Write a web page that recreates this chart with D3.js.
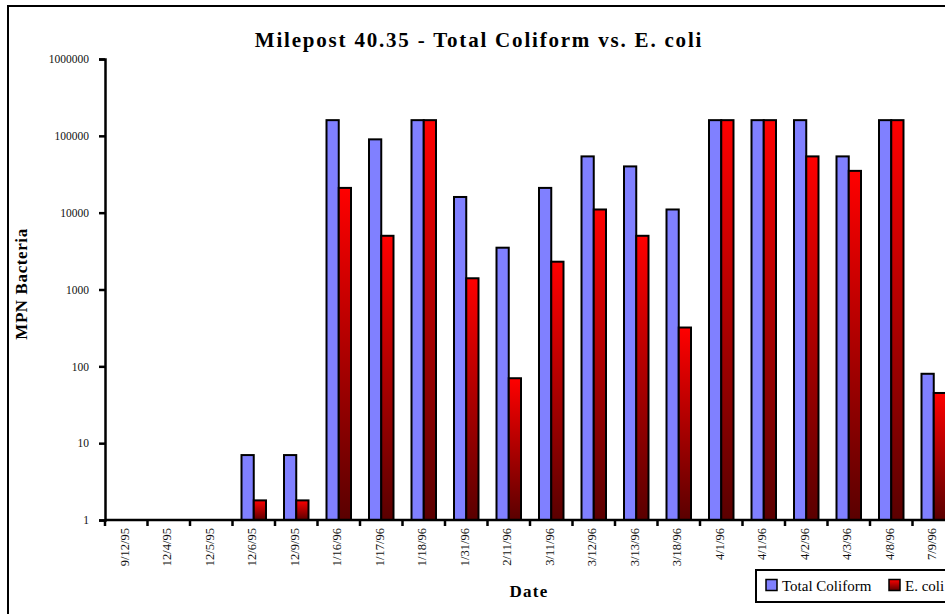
<!DOCTYPE html>
<html>
<head>
<meta charset="utf-8">
<script src="https://cdn.jsdelivr.net/npm/d3@7"></script>
<style>
  html, body { margin: 0; padding: 0; background: #fff; }
  svg { display: block; font-family: "Liberation Serif", "Times New Roman", serif; }
</style>
</head>
<body>
<svg id="chart" width="945" height="614"></svg>
<script>
// Sampling dates (Milepost 40.35)
const dates = ["9/12/95", "12/4/95", "12/5/95", "12/6/95", "12/9/95", "1/16/96", "1/17/96",
  "1/18/96", "1/31/96", "2/11/96", "3/11/96", "3/12/96", "3/13/96", "3/18/96", "4/1/96",
  "4/1/96", "4/2/96", "4/3/96", "4/8/96", "7/9/96"];

// MPN counts; null = no bar drawn
const totalColiform = [null, null, null, 7, 7, 160000, 90000, 160000, 16000, 3500, 21000,
  54000, 40000, 11000, 160000, 160000, 160000, 54000, 160000, 80];
const eColi = [null, null, null, 1.8, 1.8, 21000, 5000, 160000, 1400, 70, 2300,
  11000, 5000, 320, 160000, 160000, 54000, 35000, 160000, 45];

const yTicks = [1, 10, 100, 1000, 10000, 100000, 1000000];
const seriesNames = ["Total Coliform", "E. coli"];

const svg = d3.select("#chart");

const defs = svg.append("defs");
["ecoliFill", "ecoliSwatch"].forEach(id => {
  const grad = defs.append("linearGradient")
    .attr("id", id)
    .attr("x1", 0).attr("y1", 0).attr("x2", 0).attr("y2", 1);
  grad.append("stop").attr("offset", "0%").attr("stop-color", "#ff0000");
  grad.append("stop").attr("offset", "100%").attr("stop-color", "#5a0000");
});

// outer frame
svg.append("rect")
  .attr("x", 8).attr("y", 6).attr("width", 960).attr("height", 640)
  .attr("fill", "none").attr("stroke", "#000").attr("stroke-width", 2);

const plotLeft = 105, plotTop = 59, plotBottom = 520, step = 42.5;

const x = d3.scaleBand()
  .domain(d3.range(dates.length))
  .range([plotLeft, plotLeft + step * dates.length])
  .paddingInner(0).paddingOuter(0);

const xs = d3.scaleBand()
  .domain([0, 1])
  .range([0, x.bandwidth()])
  .paddingInner(0)
  .paddingOuter(0.735);

const y = d3.scaleLog()
  .domain([1, 1000000])
  .range([plotBottom, plotTop]);

// title
svg.append("text")
  .attr("x", 479).attr("y", 47)
  .attr("text-anchor", "middle")
  .attr("font-size", 21).attr("font-weight", "bold")
  .attr("letter-spacing", 1.8)
  .text("Milepost 40.35 - Total Coliform vs. E. coli");

// bars
const rows = dates.map((d, i) => ({ i, tc: totalColiform[i], ec: eColi[i] }));
const groups = svg.append("g").selectAll("g")
  .data(rows).join("g")
  .attr("transform", d => `translate(${x(d.i)},0)`);

groups.each(function (d) {
  const g = d3.select(this);
  [[0, d.tc, "#8080ff"], [1, d.ec, "url(#ecoliFill)"]].forEach(([k, v, fill]) => {
    if (v == null) return;
    g.append("rect")
      .attr("x", xs(k))
      .attr("y", y(v))
      .attr("width", xs.bandwidth())
      .attr("height", y(1) - y(v))
      .attr("fill", fill)
      .attr("stroke", "#000")
      .attr("stroke-width", 2);
  });
});

// y axis
const yAxis = d3.axisLeft(y)
  .tickValues(yTicks)
  .tickFormat(d3.format("d"))
  .tickSize(6)
  .tickPadding(10);
const yg = svg.append("g")
  .attr("transform", `translate(${plotLeft},0)`)
  .call(yAxis);
yg.select(".domain").attr("stroke-width", 2.5);
yg.selectAll(".tick line").attr("stroke-width", 2.5);
yg.selectAll(".tick text")
  .attr("font-size", 11.5)
  .attr("font-family", "Liberation Serif, serif")
  .attr("fill", "#111");

// x axis: labels centred on categories, ticks on category boundaries
const xAxis = d3.axisBottom(x).tickSize(0).tickFormat(i => dates[i]);
const xg = svg.append("g")
  .attr("transform", `translate(0,${plotBottom})`)
  .call(xAxis);
xg.select(".domain").remove();
xg.selectAll(".tick text")
  .attr("font-size", 12.5)
  .attr("font-family", "Liberation Serif, serif")
  .attr("fill", "#111")
  .attr("text-anchor", "end")
  .attr("transform", "rotate(-90)")
  .attr("x", -8)
  .attr("y", -2)
  .attr("dy", "0.35em");

svg.append("line")
  .attr("x1", plotLeft).attr("x2", x.range()[1])
  .attr("y1", plotBottom).attr("y2", plotBottom)
  .attr("stroke", "#000").attr("stroke-width", 2.5);

svg.append("g").selectAll("line")
  .data(d3.range(dates.length + 1))
  .join("line")
  .attr("x1", i => plotLeft + i * x.step())
  .attr("x2", i => plotLeft + i * x.step())
  .attr("y1", plotBottom).attr("y2", plotBottom + 6)
  .attr("stroke", "#000").attr("stroke-width", 2.5);

// axis titles
svg.append("text")
  .attr("transform", "translate(27,284) rotate(-90)")
  .attr("text-anchor", "middle")
  .attr("font-size", 17).attr("font-weight", "bold")
  .attr("letter-spacing", 0.6)
  .text("MPN Bacteria");

svg.append("text")
  .attr("x", 529).attr("y", 597)
  .attr("text-anchor", "middle")
  .attr("font-size", 17).attr("font-weight", "bold")
  .attr("letter-spacing", 1.2)
  .text("Date");

// legend
const legend = svg.append("g").attr("transform", "translate(756,570)");
legend.append("rect")
  .attr("width", 220).attr("height", 32)
  .attr("fill", "#fff").attr("stroke", "#000").attr("stroke-width", 2);
const legendItems = [
  { name: seriesNames[0], fill: "#8080ff", x: 10 },
  { name: seriesNames[1], fill: "url(#ecoliSwatch)", x: 133 }
];
legendItems.forEach(it => {
  legend.append("rect")
    .attr("x", it.x).attr("y", 9.5)
    .attr("width", 11).attr("height", 11)
    .attr("fill", it.fill).attr("stroke", "#000").attr("stroke-width", 1.5);
  legend.append("text")
    .attr("x", it.x + 16).attr("y", 20.5)
    .attr("font-size", 15)
    .text(it.name);
});
</script>
</body>
</html>
